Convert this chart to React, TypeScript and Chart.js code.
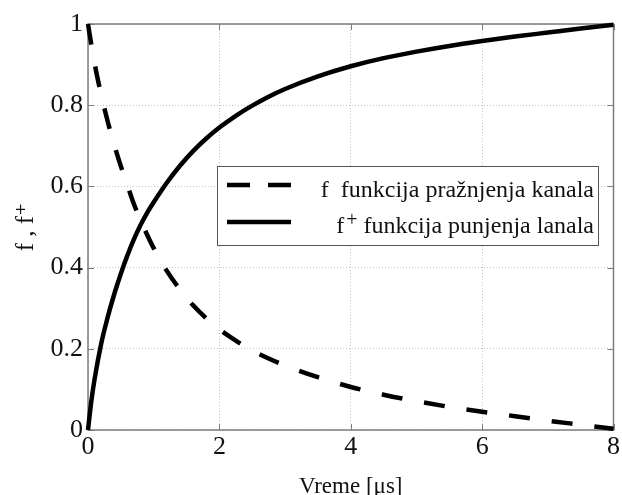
import { useEffect, useRef } from 'react';
import { Chart, registerables } from 'chart.js';

Chart.register(...registerables);

// f- : discharge function (dashed)
const dischargeTime = [0, 0.05, 0.1, 0.2, 0.3, 0.4, 0.5, 0.6, 0.7, 0.8, 0.9, 1.0, 1.2, 1.4, 1.6, 1.8, 2.0, 2.25, 2.5, 2.75, 3.0, 3.5, 4.0, 4.5, 5.0, 5.5, 6.0, 6.5, 7.0, 7.5, 8.0];
const dischargeValue = [1.0, 0.95, 0.903, 0.826, 0.76, 0.702, 0.65, 0.603, 0.556, 0.517, 0.481, 0.448, 0.392, 0.346, 0.307, 0.275, 0.248, 0.22, 0.196, 0.176, 0.159, 0.13, 0.106, 0.087, 0.071, 0.057, 0.045, 0.034, 0.023, 0.013, 0.003];

// f+ : charge function (solid)
const chargeTime = [0, 0.05, 0.1, 0.2, 0.3, 0.4, 0.5, 0.6, 0.7, 0.8, 0.9, 1.0, 1.2, 1.4, 1.6, 1.8, 2.0, 2.25, 2.5, 2.75, 3.0, 3.5, 4.0, 4.5, 5.0, 5.5, 6.0, 6.5, 7.0, 7.5, 8.0];
const chargeValue = [0, 0.07, 0.125, 0.212, 0.278, 0.335, 0.385, 0.43, 0.47, 0.505, 0.535, 0.561, 0.609, 0.651, 0.687, 0.718, 0.745, 0.774, 0.799, 0.821, 0.84, 0.871, 0.896, 0.916, 0.932, 0.946, 0.958, 0.969, 0.979, 0.989, 0.998];

const xTickLabels = ['0', '2', '4', '6', '8'];
const yTickLabels = ['0', '0.2', '0.4', '0.6', '0.8', '1'];
const legendLabels = ['f  funkcija pražnjenja kanala', 'f⁺ funkcija punjenja lanala'];
const xTitle = 'Vreme [μs]';
const yTitle = 'f , f⁺';

const SERIF = '"Liberation Serif", "DejaVu Serif", serif';

function drawRich(ctx: CanvasRenderingContext2D, text: string, xRight: number, y: number, size: number) {
  const parts: { t: string; sup: boolean }[] = [];
  let buf = '';
  for (const ch of text) {
    if (ch === '⁺') {
      if (buf) parts.push({ t: buf, sup: false });
      buf = '';
      parts.push({ t: '+', sup: true });
    } else buf += ch;
  }
  if (buf) parts.push({ t: buf, sup: false });
  const supSize = Math.round(size * 0.85);
  const widths = parts.map((p) => {
    ctx.font = `${p.sup ? supSize : size}px ${SERIF}`;
    return ctx.measureText(p.t).width + (p.sup ? 2 : 0);
  });
  const total = widths.reduce((a, b) => a + b, 0);
  let x = xRight - total;
  ctx.textAlign = 'left';
  ctx.textBaseline = 'alphabetic';
  parts.forEach((p, i) => {
    ctx.font = `${p.sup ? supSize : size}px ${SERIF}`;
    ctx.fillText(p.t, x + (p.sup ? 2 : 0), p.sup ? y - 7 : y);
    x += widths[i];
  });
}

const framePlugin = {
  id: 'matlabFrame',
  beforeDatasetsDraw(chart: any) {
    const { ctx, chartArea: a, scales } = chart;
    ctx.save();
    ctx.strokeStyle = '#7c7c7c';
    ctx.lineWidth = 1;
    const tl = 6;
    ctx.beginPath();
    scales.x.ticks.forEach((t: any) => {
      const px = Math.round(scales.x.getPixelForValue(t.value)) + 0.5;
      ctx.moveTo(px, a.bottom);
      ctx.lineTo(px, a.bottom - tl);
      ctx.moveTo(px, a.top);
      ctx.lineTo(px, a.top + tl);
    });
    scales.y.ticks.forEach((t: any) => {
      const py = Math.round(scales.y.getPixelForValue(t.value)) + 0.5;
      ctx.moveTo(a.left, py);
      ctx.lineTo(a.left + tl, py);
      ctx.moveTo(a.right, py);
      ctx.lineTo(a.right - tl, py);
    });
    ctx.stroke();
    ctx.lineWidth = 1.5;
    ctx.strokeRect(a.left, a.top, a.right - a.left, a.bottom - a.top);
    ctx.restore();
  },
  afterDraw(chart: any) {
    const { ctx, chartArea: a } = chart;
    const bx = a.left + 129;
    const by = a.top + 142;
    const bw = 381;
    const bh = 79;
    ctx.save();
    ctx.fillStyle = '#ffffff';
    ctx.fillRect(bx, by, bw, bh);
    ctx.strokeStyle = '#555555';
    ctx.lineWidth = 1;
    ctx.strokeRect(bx + 0.5, by + 0.5, bw, bh);
    const rows = [
      { lineY: by + 19, textY: by + 31, ds: chart.data.datasets[0], dash: [23, 18] },
      { lineY: by + 56, textY: by + 67, ds: chart.data.datasets[1], dash: [] as number[] },
    ];
    rows.forEach((r, i) => {
      ctx.beginPath();
      ctx.strokeStyle = r.ds.borderColor;
      ctx.lineWidth = r.ds.borderWidth;
      ctx.setLineDash(r.dash);
      ctx.moveTo(bx + 10, r.lineY);
      ctx.lineTo(bx + 74, r.lineY);
      ctx.stroke();
      ctx.setLineDash([]);
      ctx.fillStyle = '#111111';
      drawRich(ctx, legendLabels[i], bx + bw - 4, r.textY, 24);
    });
    ctx.restore();
  },
};

export default function App() {
  const canvasRef = useRef<HTMLCanvasElement | null>(null);

  useEffect(() => {
    const canvas = canvasRef.current;
    if (!canvas) return;
    const chart = new Chart(canvas, {
      type: 'line',
      data: {
        datasets: [
          {
            label: legendLabels[0],
            data: dischargeTime.map((t, i) => ({ x: t, y: dischargeValue[i] })),
            borderColor: '#000000',
            borderWidth: 4.5,
            borderDash: [21, 22],
            pointRadius: 0,
            cubicInterpolationMode: 'monotone',
            fill: false,
            clip: 4,
          },
          {
            label: legendLabels[1],
            data: chargeTime.map((t, i) => ({ x: t, y: chargeValue[i] })),
            borderColor: '#000000',
            borderWidth: 4.5,
            pointRadius: 0,
            cubicInterpolationMode: 'monotone',
            fill: false,
            clip: 4,
          },
        ],
      },
      options: {
        animation: false,
        responsive: false,
        devicePixelRatio: 1,
        layout: { padding: { top: 24, right: 8, left: 0, bottom: 0 } },
        plugins: {
          legend: { display: false },
          tooltip: { enabled: false },
        },
        scales: {
          x: {
            type: 'linear',
            min: 0,
            max: 8,
            ticks: {
              stepSize: 2,
              padding: 2,
              color: '#111111',
              font: { family: SERIF, size: 26 },
              callback: (v: any) => xTickLabels[Math.round(Number(v) / 2)] ?? '',
              maxRotation: 0,
            },
            grid: { color: '#c4c4c4', lineWidth: 1, drawTicks: false },
            border: { display: false, dash: [1, 2] },
            title: {
              display: true,
              text: xTitle,
              color: '#111111',
              font: { family: SERIF, size: 23 },
              padding: { top: 0, bottom: -6 },
            },
            afterFit: (s: any) => {
              s.height = 65;
            },
          },
          y: {
            type: 'linear',
            min: 0,
            max: 1,
            ticks: {
              stepSize: 0.2,
              padding: 5,
              color: '#111111',
              font: { family: SERIF, size: 26 },
              callback: (v: any) => yTickLabels[Math.round(Number(v) / 0.2)] ?? '',
            },
            grid: { color: '#c4c4c4', lineWidth: 1, drawTicks: false },
            border: { display: false, dash: [1, 2] },
            title: {
              display: true,
              text: yTitle,
              color: '#111111',
              font: { family: SERIF, size: 25 },
              padding: { top: 11, bottom: 0 },
            },
            afterFit: (s: any) => {
              s.width = 88;
            },
          },
        },
      },
      plugins: [framePlugin],
    } as any);
    return () => chart.destroy();
  }, []);

  return (
    <div style={{ position: 'absolute', left: 0, top: 0, width: 622, height: 495, background: '#ffffff' }}>
      <canvas ref={canvasRef} width={622} height={495} style={{ display: 'block' }} />
    </div>
  );
}
